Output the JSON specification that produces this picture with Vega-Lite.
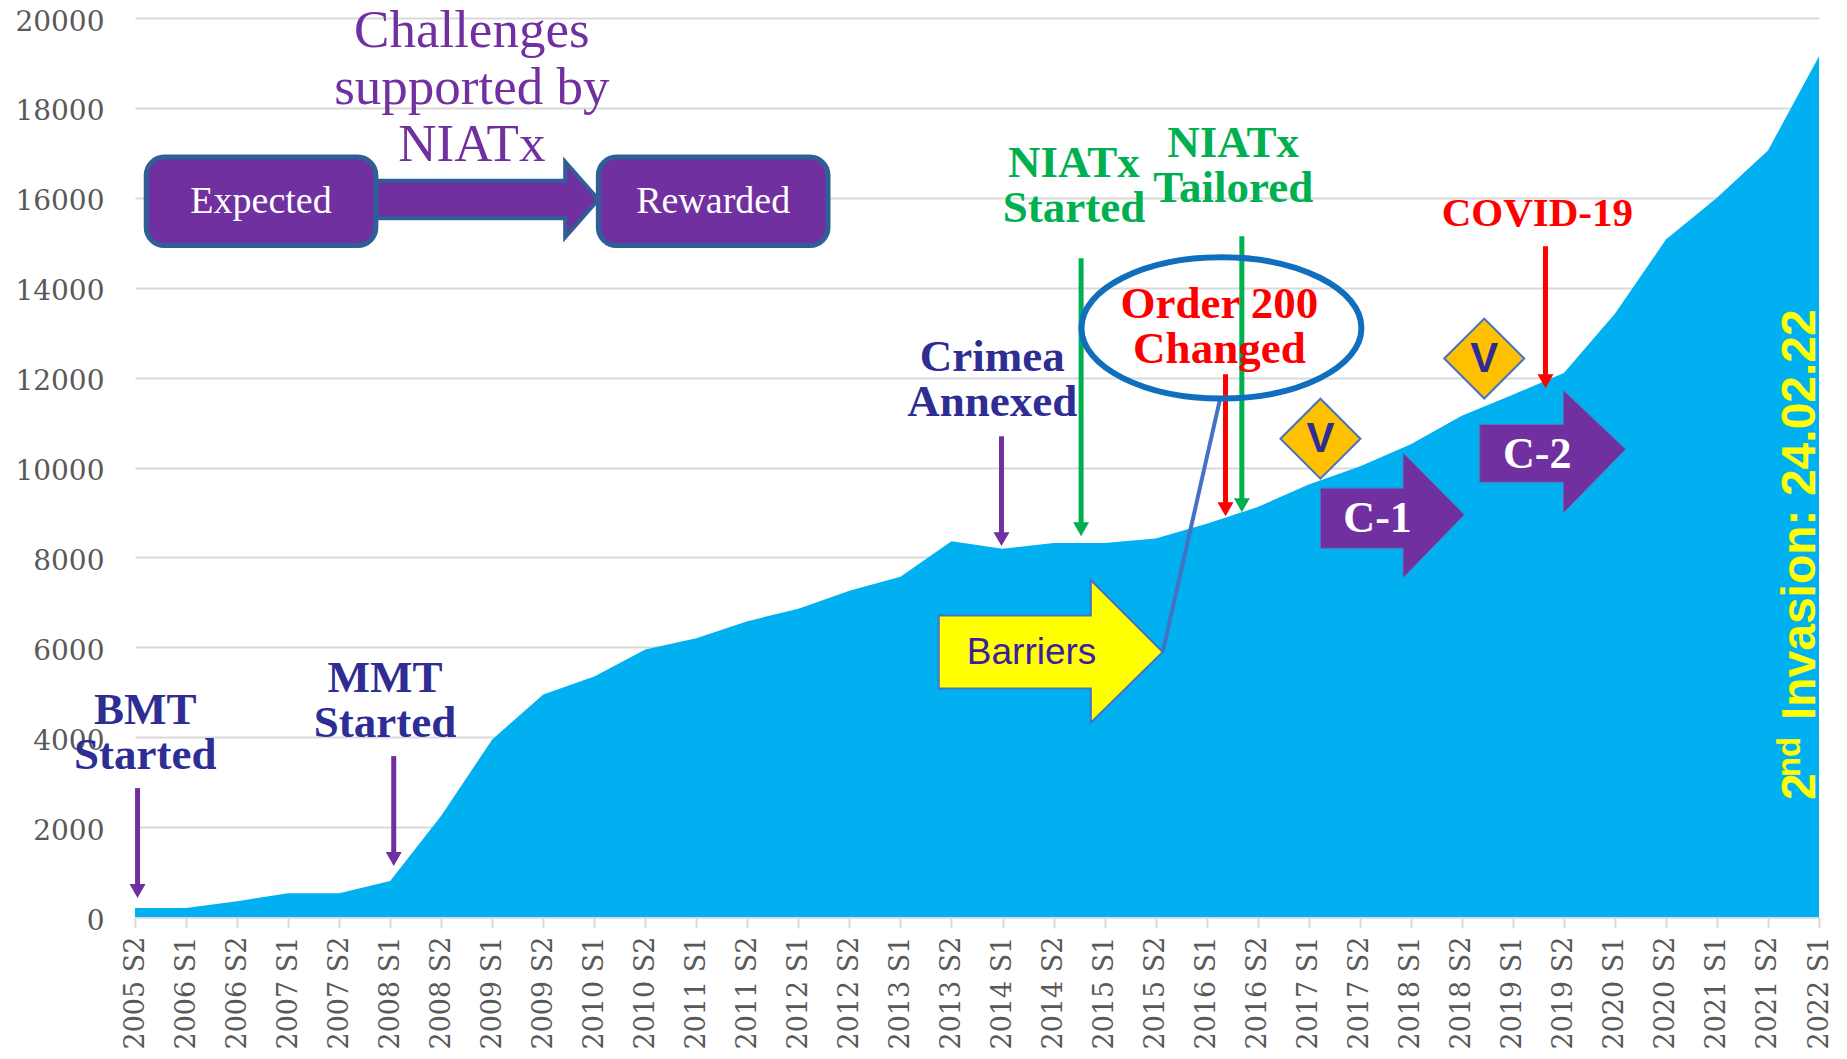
{
"$schema":"https://vega.github.io/schema/vega-lite/v6.json",
"width":1684,"height":899,
"autosize":"none",
"padding":{"left":135,"top":18,"right":28,"bottom":142},
"background":"white",
"config":{"view":{"stroke":null}},
"datasets":{
"series":[
{"period":"2005 S2","i":0,"value":200},{"period":"2006 S1","i":1,"value":200},{"period":"2006 S2","i":2,"value":350},{"period":"2007 S1","i":3,"value":530},{"period":"2007 S2","i":4,"value":530},{"period":"2008 S1","i":5,"value":800},{"period":"2008 S2","i":6,"value":2250},{"period":"2009 S1","i":7,"value":3950},{"period":"2009 S2","i":8,"value":4950},{"period":"2010 S1","i":9,"value":5350},{"period":"2010 S2","i":10,"value":5950},{"period":"2011 S1","i":11,"value":6200},{"period":"2011 S2","i":12,"value":6580},{"period":"2012 S1","i":13,"value":6860},{"period":"2012 S2","i":14,"value":7260},{"period":"2013 S1","i":15,"value":7570},{"period":"2013 S2","i":16,"value":8360},{"period":"2014 S1","i":17,"value":8190},{"period":"2014 S2","i":18,"value":8320},{"period":"2015 S1","i":19,"value":8320},{"period":"2015 S2","i":20,"value":8420},{"period":"2016 S1","i":21,"value":8750},{"period":"2016 S2","i":22,"value":9120},{"period":"2017 S1","i":23,"value":9620},{"period":"2017 S2","i":24,"value":10020},{"period":"2018 S1","i":25,"value":10520},{"period":"2018 S2","i":26,"value":11150},{"period":"2019 S1","i":27,"value":11620},{"period":"2019 S2","i":28,"value":12100},{"period":"2020 S1","i":29,"value":13420},{"period":"2020 S2","i":30,"value":15070},{"period":"2021 S1","i":31,"value":16000},{"period":"2021 S2","i":32,"value":17050},{"period":"2022 S1","i":33,"value":19150}
],
"arrows":[
{"event":"BMT Started","kind":"purple","x":0.05,"top":2868,"tip":400,"head":578},
{"event":"MMT Started","kind":"purple","x":5.07,"top":3580,"tip":1112,"head":1290},
{"event":"Crimea Annexed","kind":"purple","x":16.98,"top":10695,"tip":8227,"head":8405},
{"event":"NIATx Started","kind":"green","x":18.54,"top":14653,"tip":8449,"head":8627},
{"event":"Order 200 Changed","kind":"red","x":21.37,"top":12074,"tip":8894,"head":9072},
{"event":"NIATx Tailored","kind":"green","x":21.69,"top":15142,"tip":8983,"head":9161},
{"event":"COVID-19","kind":"red","x":27.64,"top":14920,"tip":11740,"head":11918}
],
"labels":[
{"text":"BMT\nStarted","kind":"navy","x":0.2,"y":4613},
{"text":"MMT\nStarted","kind":"navy","x":4.9,"y":5320},
{"text":"Crimea\nAnnexed","kind":"navy","x":16.8,"y":12450},
{"text":"NIATx\nStarted","kind":"green","x":18.4,"y":16774},
{"text":"NIATx\nTailored","kind":"green","x":21.52,"y":17220},
{"text":"Order 200\nChanged","kind":"red","x":21.25,"y":13630}
],
"blocks":[
{"shape":"Expected","x":0.22,"x2":4.72,"y":16905,"y2":14940},
{"shape":"Rewarded","x":9.08,"x2":13.58,"y":16905,"y2":14940}
],
"link":[
{"x":4.72,"y":16381,"y2":15543},{"x":8.43,"y":16381,"y2":15543},{"x":8.43,"y":16800,"y2":15123},{"x":9.08,"y":15962,"y2":15962}
],
"challenges":[
{"shape":"C-1","x":23.23,"y":9540,"y2":8204},{"shape":"C-1","x":24.85,"y":9540,"y2":8204},{"shape":"C-1","x":24.85,"y":10327,"y2":7549},{"shape":"C-1","x":26.05,"y":8950,"y2":8950},
{"shape":"C-2","x":26.35,"y":10956,"y2":9672},{"shape":"C-2","x":27.99,"y":10956,"y2":9672},{"shape":"C-2","x":27.99,"y":11716,"y2":8990},{"shape":"C-2","x":29.21,"y":10405,"y2":10405}
],
"barrier":[
{"x":15.75,"y":6710,"y2":5085},{"x":18.73,"y":6710,"y2":5085},{"x":18.73,"y":7496,"y2":4325},{"x":20.14,"y":5897,"y2":5897}
]
},
"layer":[
{"data":{"name":"series"},"mark":{"type":"area","color":"#00B0F0","interpolate":"linear"},
 "encoding":{
  "x":{"field":"i","type":"quantitative","scale":{"domain":[0,33],"nice":false,"zero":false},
   "axis":{"title":null,"values":[0,1,2,3,4,5,6,7,8,9,10,11,12,13,14,15,16,17,18,19,20,21,22,23,24,25,26,27,28,29,30,31,32,33],
    "labelExpr":"(2005+floor((datum.value+1)/2))+(datum.value%2?' S1':' S2')",
    "labelAngle":270,"labelAlign":"right","labelBaseline":"middle","labelFont":"DejaVu Serif","labelFontSize":27,"labelColor":"#595959","labelOverlap":false,"labelFlush":false,"labelPadding":8,
    "tickColor":"#D9D9D9","tickSize":11,"tickWidth":2,"domainColor":"#D9D9D9","domainWidth":2,"grid":false}},
  "y":{"field":"value","type":"quantitative","stack":null,"scale":{"domain":[0,20000],"nice":false},
   "axis":{"title":null,"values":[0,2000,4000,6000,8000,10000,12000,14000,16000,18000,20000],"format":"d","ticks":false,"domain":false,"labelFont":"DejaVu Serif","labelFontSize":28,"labelColor":"#595959","labelPadding":31,"labelOffset":4,"grid":true,"gridColor":"#D9D9D9","gridWidth":2}}
 }},
{"data":{"name":"challenges"},"mark":{"type":"area","color":"#7030A0","stroke":"#5B6FB5","strokeWidth":1},
 "encoding":{"x":{"field":"x","type":"quantitative"},"y":{"field":"y","type":"quantitative","stack":null},"y2":{"field":"y2"},"detail":{"field":"shape"}}},
{"data":{"name":"barrier"},"mark":{"type":"area","color":"#FFFF00","stroke":"#4472C4","strokeWidth":2},
 "encoding":{"x":{"field":"x","type":"quantitative"},"y":{"field":"y","type":"quantitative","stack":null},"y2":{"field":"y2"}}},
{"data":{"values":[{"x":20.14,"y":5897,"x2":21.27,"y2":11560}]},"mark":{"type":"rule","color":"#4472C4","strokeWidth":4},
 "encoding":{"x":{"field":"x","type":"quantitative"},"y":{"field":"y","type":"quantitative"},"x2":{"field":"x2"},"y2":{"field":"y2"}}},
{"data":{"name":"link"},"mark":{"type":"area","color":"#7030A0","stroke":"#2F5F96","strokeWidth":4},
 "encoding":{"x":{"field":"x","type":"quantitative"},"y":{"field":"y","type":"quantitative","stack":null},"y2":{"field":"y2"}}},
{"data":{"name":"blocks"},"mark":{"type":"rect","color":"#7030A0","stroke":"#2F5F96","strokeWidth":5,"cornerRadius":18},
 "encoding":{"x":{"field":"x","type":"quantitative"},"x2":{"field":"x2"},"y":{"field":"y","type":"quantitative"},"y2":{"field":"y2"}}},
{"data":{"name":"arrows"},"mark":{"type":"rule","strokeWidth":5},
 "encoding":{"x":{"field":"x","type":"quantitative"},"y":{"field":"top","type":"quantitative"},"y2":{"field":"head"},
  "color":{"field":"kind","type":"nominal","legend":null,"scale":{"domain":["purple","green","red","navy"],"range":["#7030A0","#00B050","#FF0000","#2E2D94"]}}}},
{"data":{"name":"arrows"},"mark":{"type":"point","shape":"triangle-down","filled":true,"opacity":1,"size":256},
 "encoding":{"x":{"field":"x","type":"quantitative"},"y":{"field":"head","type":"quantitative"},
  "color":{"field":"kind","type":"nominal","legend":null,"scale":{"domain":["purple","green","red","navy"],"range":["#7030A0","#00B050","#FF0000","#2E2D94"]}}}},
{"data":{"name":"labels"},"mark":{"type":"text","font":"Liberation Serif","fontWeight":"bold","fontSize":45,"lineHeight":45,"lineBreak":"\n","align":"center","baseline":"middle"},
 "encoding":{"x":{"field":"x","type":"quantitative"},"y":{"field":"y","type":"quantitative"},"text":{"field":"text"},
  "color":{"field":"kind","type":"nominal","legend":null,"scale":{"domain":["purple","green","red","navy"],"range":["#7030A0","#00B050","#FF0000","#2E2D94"]}}}},
{"data":{"values":[{"x":27.48,"y":15650,"t":"COVID-19"}]},"mark":{"type":"text","font":"Liberation Serif","fontWeight":"bold","fontSize":41,"color":"#FF0000","align":"center","baseline":"middle"},
 "encoding":{"x":{"field":"x","type":"quantitative"},"y":{"field":"y","type":"quantitative"},"text":{"field":"t"}}},
{"data":{"values":[{"x":21.29,"y":13105}]},"mark":{"type":"point","shape":"M-1,0A1,.504,0,1,1,1,0A1,.504,0,1,1,-1,0Z","filled":false,"opacity":1,"stroke":"#0F6FBE","strokeWidth":6,"size":78400},
 "encoding":{"x":{"field":"x","type":"quantitative"},"y":{"field":"y","type":"quantitative"}}},
{"data":{"values":[{"x":23.23,"y":10641},{"x":26.44,"y":12424}]},"mark":{"type":"point","shape":"diamond","filled":true,"opacity":1,"fill":"#FFC000","stroke":"#4472C4","strokeWidth":2,"size":6400},
 "encoding":{"x":{"field":"x","type":"quantitative"},"y":{"field":"y","type":"quantitative"}}},
{"data":{"values":[{"x":23.23,"y":10641,"t":"V"},{"x":26.44,"y":12424,"t":"V"}]},"mark":{"type":"text","font":"Liberation Sans","fontWeight":"bold","fontSize":42,"color":"#2E2D94","align":"center","baseline":"middle"},
 "encoding":{"x":{"field":"x","type":"quantitative"},"y":{"field":"y","type":"quantitative"},"text":{"field":"t"}}},
{"data":{"values":[{"x":24.35,"y":8850,"t":"C-1"},{"x":27.48,"y":10280,"t":"C-2"}]},"mark":{"type":"text","font":"Liberation Serif","fontWeight":"bold","fontSize":44,"color":"white","align":"center","baseline":"middle"},
 "encoding":{"x":{"field":"x","type":"quantitative"},"y":{"field":"y","type":"quantitative"},"text":{"field":"t"}}},
{"data":{"values":[{"x":17.57,"y":5880,"t":"Barriers"}]},"mark":{"type":"text","font":"Liberation Sans","fontSize":37,"color":"#3A1FA0","align":"center","baseline":"middle"},
 "encoding":{"x":{"field":"x","type":"quantitative"},"y":{"field":"y","type":"quantitative"},"text":{"field":"t"}}},
{"data":{"values":[{"x":2.47,"y":15912,"t":"Expected"},{"x":11.33,"y":15912,"t":"Rewarded"}]},"mark":{"type":"text","font":"Liberation Serif","fontSize":38,"color":"white","align":"center","baseline":"middle"},
 "encoding":{"x":{"field":"x","type":"quantitative"},"y":{"field":"y","type":"quantitative"},"text":{"field":"t"}}},
{"data":{"values":[{"x":6.6,"y":19710,"t":"Challenges\nsupported by\nNIATx"}]},"mark":{"type":"text","font":"Liberation Serif","fontSize":53,"lineHeight":57,"lineBreak":"\n","color":"#7030A0","align":"center","baseline":"middle"},
 "encoding":{"x":{"field":"x","type":"quantitative"},"y":{"field":"y","type":"quantitative"},"text":{"field":"t"}}},
{"data":{"values":[{"x":32.92,"y":2601,"t":"2"},{"x":32.92,"y":4380,"t":"Invasion: 24.02.22"}]},"mark":{"type":"text","font":"Liberation Sans","fontWeight":"bold","fontSize":48,"angle":270,"color":"#FFFF00","align":"left","baseline":"alphabetic"},
 "encoding":{"x":{"field":"x","type":"quantitative"},"y":{"field":"y","type":"quantitative"},"text":{"field":"t"}}},
{"data":{"values":[{"x":32.63,"y":3113,"t":"nd"}]},"mark":{"type":"text","font":"Liberation Sans","fontWeight":"bold","fontSize":33,"angle":270,"color":"#FFFF00","align":"left","baseline":"alphabetic"},
 "encoding":{"x":{"field":"x","type":"quantitative"},"y":{"field":"y","type":"quantitative"},"text":{"field":"t"}}}
]
}
